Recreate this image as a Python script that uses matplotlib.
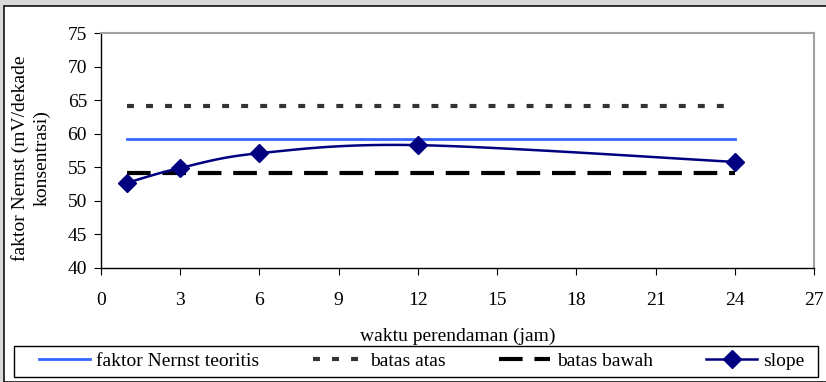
import numpy as np
import matplotlib.pyplot as plt
from matplotlib.patches import Rectangle
from matplotlib.lines import Line2D

plt.rcParams['font.family'] = ['Liberation Serif', 'DejaVu Serif']
plt.rcParams['lines.scale_dashes'] = False

# waktu perendaman (jam) dan nilai slope elektroda
waktu = [1, 3, 6, 12, 24]
slope = [52.7, 54.9, 57.1, 58.3, 55.8]
nernst_teoritis = [59.16, 59.16]
batas_atas = [64.16, 64.16]
batas_bawah = [54.16, 54.16]
garis_x = [1, 24]

xticks = list(range(0, 28, 3))
yticks = list(range(40, 80, 5))


def smooth(x, y, n=30):
    # kurva halus gaya Catmull-Rom lewat titik data
    x = np.asarray(x, float)
    y = np.asarray(y, float)
    px = np.concatenate([[x[0]], x, [x[-1]]])
    py = np.concatenate([[y[0]], y, [y[-1]]])
    xs, ys = [], []
    t = np.linspace(0, 1, n)
    for i in range(1, len(px) - 2):
        for p, out in ((px, xs), (py, ys)):
            p0, p1, p2, p3 = p[i - 1], p[i], p[i + 1], p[i + 2]
            m1 = (p2 - p0) / 6.0
            m2 = (p3 - p1) / 6.0
            c = ((2 * t**3 - 3 * t**2 + 1) * p1 + (t**3 - 2 * t**2 + t) * 3 * m1
                 + (-2 * t**3 + 3 * t**2) * p2 + (t**3 - t**2) * 3 * m2)
            out.extend(c)
    return xs, ys


fs = 14
W, H = 826, 382

fig = plt.figure(figsize=(W / 100, H / 100), dpi=100, facecolor='#d9d9d9')
fig.patches.append(Rectangle((4 / W, 0), 1, 1 - 6 / H, transform=fig.transFigure,
                             facecolor='white', edgecolor='#111111', linewidth=1.2,
                             zorder=-5))

ax = fig.add_axes([101 / W, 1 - 268 / H, 713 / W, 235 / H])
ax.set_facecolor('white')

ax.plot(garis_x, batas_atas, color='#333333', linewidth=3, dashes=(5, 8.7))
ax.plot(garis_x, nernst_teoritis, color='#3366ff', linewidth=2)
ax.plot(garis_x, batas_bawah, color='black', linewidth=3, dashes=(17, 8.5))
sx, sy = smooth(waktu, slope)
ax.plot(sx, sy, color='#000080', linewidth=1.8)
ax.plot(waktu, slope, linestyle='none', marker='D', markersize=9, color='#000080')

ax.set_xlim(0, 27)
ax.set_ylim(40, 75)
ax.set_xticks(xticks)
ax.set_yticks(yticks)
ax.tick_params(axis='x', direction='out', length=5, pad=12, labelsize=fs)
ax.tick_params(axis='y', direction='out', length=5, pad=5, labelsize=fs)
for s in ('top', 'right'):
    ax.spines[s].set_color('#a0a0a0')
    ax.spines[s].set_linewidth(1.5)
for s in ('left', 'bottom'):
    ax.spines[s].set_color('black')
    ax.spines[s].set_linewidth(1.0)

ax.set_xlabel('waktu perendaman (jam)', fontsize=fs, labelpad=14)
fig.text(31 / W, 1 - 158 / H, 'faktor Nernst (mV/dekade\nkonsentrasi)', fontsize=fs,
         rotation=90, ha='center', va='center', multialignment='center',
         linespacing=1.3)

# kotak legenda
fig.patches.append(Rectangle((14 / W, 5 / H), 804 / W, 31 / H, transform=fig.transFigure,
                             facecolor='none', edgecolor='black', linewidth=1.0))
handles = [
    Line2D([], [], color='#3366ff', linewidth=2),
    Line2D([], [], color='#333333', linewidth=3, dashes=(5, 8.7)),
    Line2D([], [], color='black', linewidth=3, dashes=(17, 8.5)),
    Line2D([], [], color='#000080', linewidth=1.8, marker='D', markersize=9),
]
labels = ['faktor Nernst teoritis', 'batas atas', 'batas bawah', 'slope']
fig.legend(handles, labels, ncol=4, loc='center left',
           bbox_to_anchor=(39 / W, 1 - 361 / H), bbox_transform=fig.transFigure,
           fontsize=fs, frameon=False, handlelength=2.6, borderaxespad=0,
           borderpad=0, handletextpad=0.35, columnspacing=2.75)

fig.savefig('out.png', dpi=100, facecolor=fig.get_facecolor())
